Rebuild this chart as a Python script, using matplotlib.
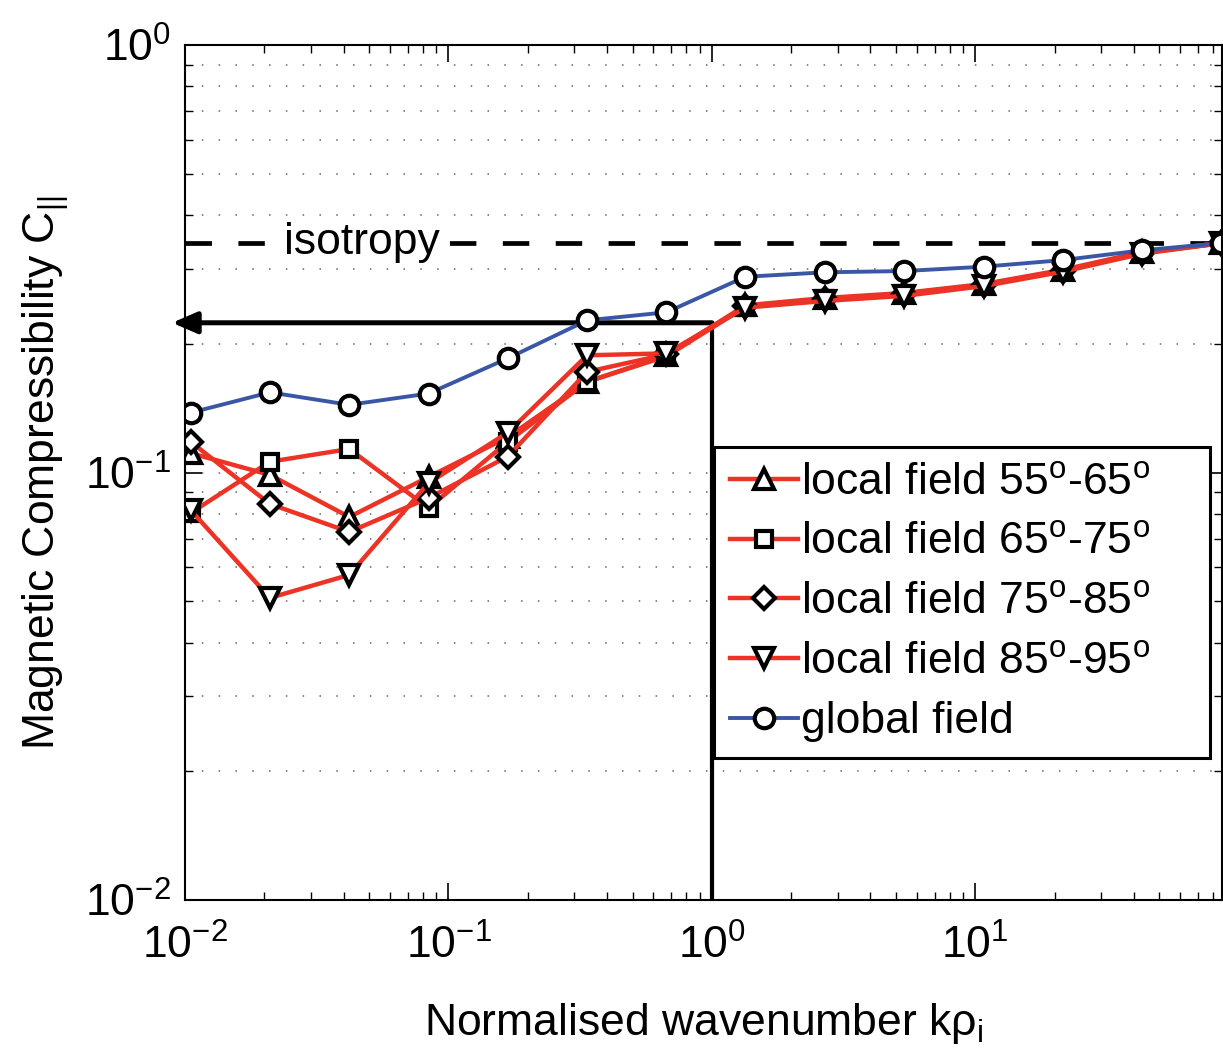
import matplotlib
matplotlib.use("Agg")
import matplotlib.pyplot as plt

plt.rcParams['font.family'] = ['Liberation Sans', 'DejaVu Sans']
plt.rcParams['mathtext.fontset'] = 'custom'
plt.rcParams['mathtext.rm'] = 'Liberation Sans'
plt.rcParams['mathtext.it'] = 'Liberation Sans:italic'
plt.rcParams['mathtext.bf'] = 'Liberation Sans:bold'

# normalised wavenumber k rho_i
k = [0.0105, 0.021, 0.042, 0.084, 0.168, 0.336, 0.672, 1.34, 2.69, 5.38, 10.75, 21.5, 43.0, 86.0]

# magnetic compressibility
c_55_65 = [0.111, 0.0987, 0.0787, 0.0976, 0.121, 0.163, 0.188, 0.246, 0.256, 0.263, 0.276, 0.298, 0.328, 0.344]
c_65_75 = [0.0804, 0.106, 0.1135, 0.0826, 0.118, 0.163, 0.187, 0.244, 0.254, 0.262, 0.275, 0.297, 0.327, 0.344]
c_75_85 = [0.118, 0.0844, 0.0726, 0.0872, 0.109, 0.172, 0.189, 0.245, 0.255, 0.261, 0.274, 0.296, 0.326, 0.344]
c_85_95 = [0.0817, 0.0509, 0.0576, 0.0945, 0.124, 0.188, 0.190, 0.243, 0.252, 0.259, 0.273, 0.295, 0.325, 0.344]
c_global = [0.138, 0.154, 0.144, 0.153, 0.185, 0.227, 0.237, 0.287, 0.294, 0.296, 0.303, 0.314, 0.331, 0.344]

labels = ['local field 55$^{\\mathrm{o}}$-65$^{\\mathrm{o}}$',
          'local field 65$^{\\mathrm{o}}$-75$^{\\mathrm{o}}$',
          'local field 75$^{\\mathrm{o}}$-85$^{\\mathrm{o}}$',
          'local field 85$^{\\mathrm{o}}$-95$^{\\mathrm{o}}$',
          'global field']

isotropy = 0.345
arrow_level = 0.224
arrow_k = 1.0

RED = '#ec3326'
BLUE = '#3a57a6'

fig = plt.figure(figsize=(12.23, 10.52), dpi=100)
ax = fig.add_axes([0.1513, 0.1445, 0.848, 0.8127])

mk = dict(markersize=14, markeredgewidth=3, markeredgecolor='black',
          markerfacecolor='white')
ax.plot(k, c_55_65, color=RED, marker='^', label=labels[0], linewidth=3.2, **mk)
ax.plot(k, c_65_75, color=RED, marker='s', label=labels[1], linewidth=3.2, **dict(mk, markersize=11.5))
ax.plot(k, c_75_85, color=RED, marker='D', label=labels[2], linewidth=3.2, **dict(mk, markersize=11))
ax.plot(k, c_85_95, color=RED, marker='v', label=labels[3], linewidth=3.2, **mk)
ax.plot(k, c_global, color=BLUE, marker='o', label=labels[4], linewidth=2.8, **mk)

ax.set_xscale('log')
ax.set_yscale('log')
ax.set_xlim(0.01, 86.5)
ax.set_ylim(0.01, 1)

# isotropy level
ax.axhline(isotropy, color='black', linewidth=3.4, dashes=(5.6, 5.6), zorder=1)
ax.text(0.047, isotropy, 'isotropy', fontsize=32, ha='center', va='center',
        bbox=dict(facecolor='white', edgecolor='none', pad=3), zorder=2)

# k rho_i = 1 marker and arrow
ax.plot([arrow_k, arrow_k], [0.01, arrow_level], color='black', linewidth=3, zorder=1)
ax.annotate('', xy=(0.00893, arrow_level), xytext=(arrow_k, arrow_level),
            arrowprops=dict(arrowstyle='-|>,head_length=1.5,head_width=0.65',
                            color='black', linewidth=3.6, shrinkA=0, shrinkB=0),
            annotation_clip=False, zorder=1)

ax.grid(True, which='both', axis='y', linestyle=(0, (1, 10)), color='#666666', linewidth=1.1)
ax.tick_params(which='both', direction='in', top=True, right=True, labelsize=32)
ax.tick_params(which='major', length=12, width=1.2)
ax.tick_params(axis='x', which='major', pad=18)
ax.tick_params(axis='y', which='major', pad=10)
ax.tick_params(which='minor', length=6, width=1)
for s in ax.spines.values():
    s.set_linewidth(1.5)

ax.set_xlabel('Normalised wavenumber k\u03c1$_{\\mathrm{i}}$', fontsize=32, labelpad=24)
ax.set_ylabel('Magnetic Compressibility C$_{\\mathrm{||}}$', fontsize=32, labelpad=10)

leg = ax.legend(loc='upper left', bbox_to_anchor=(0.510, 0.161, 0.478, 0.369),
                mode='expand', fontsize=32, handlelength=1.55, handletextpad=0.05,
                labelspacing=0.42, borderpad=0.35, borderaxespad=0,
                fancybox=False, framealpha=1)
leg.get_frame().set_edgecolor('black')
leg.get_frame().set_linewidth(2.2)

fig.savefig('out.png', dpi=100)
